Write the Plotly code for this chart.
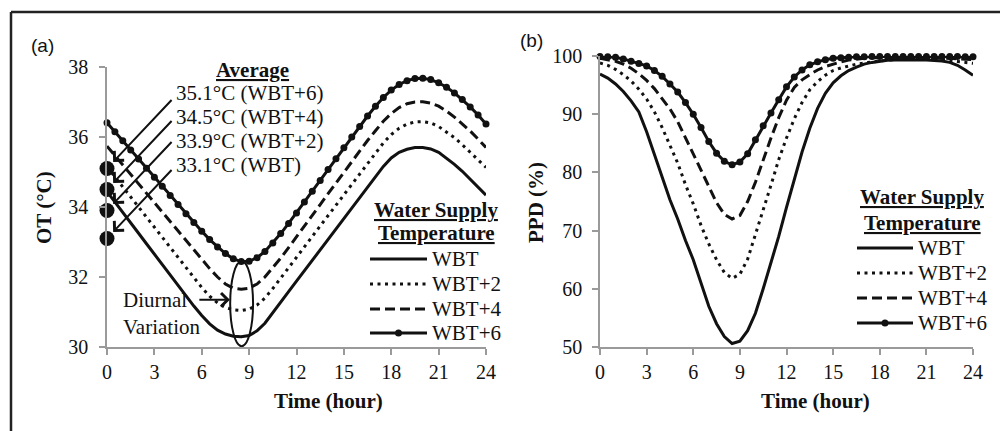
import plotly.graph_objects as go

# ---------------- data ----------------
hours = [0, 0.5, 1, 1.5, 2, 2.5, 3, 3.5, 4, 4.5, 5, 5.5, 6, 6.5, 7, 7.5, 8, 8.5, 9, 9.5,
         10, 10.5, 11, 11.5, 12, 12.5, 13, 13.5, 14, 14.5, 15, 15.5, 16, 16.5, 17, 17.5,
         18, 18.5, 19, 19.5, 20, 20.5, 21, 21.5, 22, 22.5, 23, 23.5, 24]

series_names = ["WBT", "WBT+2", "WBT+4", "WBT+6"]

# (a) Operative temperature (deg C)
ot_wbt = [34.44, 34.15, 33.85, 33.55, 33.25, 32.95, 32.65, 32.35, 32.05, 31.75, 31.45, 31.17,
          30.90, 30.66, 30.48, 30.37, 30.31, 30.29, 30.33, 30.46, 30.68, 30.97, 31.28, 31.58,
          31.88, 32.18, 32.48, 32.78, 33.08, 33.38, 33.68, 33.98, 34.28, 34.58, 34.88, 35.16,
          35.40, 35.56, 35.65, 35.70, 35.70, 35.66, 35.56, 35.40, 35.22, 35.02, 34.80, 34.57, 34.34]
ot_wbt2 = [35.15, 34.87, 34.58, 34.29, 34.00, 33.71, 33.42, 33.13, 32.84, 32.55, 32.26, 31.98,
           31.70, 31.45, 31.26, 31.13, 31.06, 31.04, 31.08, 31.20, 31.40, 31.67, 31.96, 32.26,
           32.56, 32.86, 33.16, 33.46, 33.76, 34.06, 34.36, 34.66, 34.96, 35.26, 35.55, 35.83,
           36.07, 36.25, 36.37, 36.43, 36.44, 36.40, 36.30, 36.15, 35.98, 35.78, 35.57, 35.35, 35.13]
ot_wbt4 = [35.74, 35.47, 35.20, 34.93, 34.66, 34.39, 34.12, 33.85, 33.58, 33.31, 33.04, 32.77,
           32.50, 32.24, 32.00, 31.80, 31.68, 31.65, 31.68, 31.80, 32.00, 32.26, 32.54, 32.84,
           33.14, 33.45, 33.76, 34.07, 34.38, 34.69, 35.00, 35.30, 35.60, 35.90, 36.18, 36.45,
           36.67, 36.84, 36.95, 37.00, 37.01, 36.97, 36.88, 36.74, 36.57, 36.38, 36.17, 35.94, 35.70]
ot_wbt6 = [36.41, 36.15, 35.89, 35.63, 35.37, 35.11, 34.85, 34.59, 34.33, 34.07, 33.81, 33.56,
           33.31, 33.07, 32.86, 32.67, 32.52, 32.44, 32.45, 32.55, 32.73, 32.97, 33.24, 33.53,
           33.83, 34.14, 34.45, 34.76, 35.07, 35.38, 35.69, 36.00, 36.30, 36.60, 36.88, 37.13,
           37.34, 37.50, 37.61, 37.67, 37.68, 37.64, 37.55, 37.42, 37.26, 37.07, 36.86, 36.63, 36.37]

# (b) Predicted percentage dissatisfied (%)
ppd_wbt = [96.9, 96.2, 95.2, 93.9, 92.3, 90.4, 87.0, 83.1, 79.3, 75.3, 72.0, 68.3,
           65.0, 61.0, 57.0, 54.0, 51.8, 50.6, 51.0, 52.8, 55.8, 60.0, 64.5, 69.0,
           74.0, 78.8, 83.5, 87.6, 91.0, 93.6, 95.4, 96.6, 97.5, 98.1, 98.6, 98.9,
           99.1, 99.25, 99.3, 99.35, 99.35, 99.35, 99.3, 99.25, 99.15, 98.9, 98.4, 97.6, 96.7]
ppd_wbt2 = [98.8, 98.4, 97.7, 96.8, 95.7, 94.3, 92.6, 90.4, 87.7, 84.6, 81.6, 77.9,
            74.6, 70.9, 67.7, 65.0, 62.8, 61.8, 62.5, 65.1, 69.2, 73.6, 77.8, 82.2,
            85.9, 89.2, 92.0, 94.2, 95.6, 96.7, 97.5, 97.95, 98.3, 98.6, 98.8, 99.0,
            99.15, 99.3, 99.4, 99.45, 99.5, 99.5, 99.45, 99.4, 99.3, 99.2, 99.05, 98.9, 98.75]
ppd_wbt4 = [99.6, 99.4, 99.1, 98.6, 97.9, 96.95, 95.8, 94.4, 92.7, 90.9, 88.7, 86.0,
            83.3, 80.4, 77.6, 74.8, 72.8, 72.0, 72.6, 75.0, 78.3, 82.2, 85.9, 89.4,
            92.4, 94.6, 95.9, 96.8, 97.6, 98.2, 98.65, 99.0, 99.3, 99.5, 99.6, 99.7,
            99.7, 99.75, 99.75, 99.75, 99.75, 99.75, 99.7, 99.7, 99.65, 99.6, 99.5, 99.45, 99.4]
ppd_wbt6 = [99.9, 99.85, 99.77, 99.5, 99.1, 98.7, 98.3, 97.5, 96.5, 95.2, 93.8, 92.0,
            90.0, 87.7, 85.3, 83.3, 81.9, 81.3, 81.8, 83.2, 85.6, 88.0, 90.2, 92.5,
            94.7, 96.4, 97.6, 98.5, 99.0, 99.35, 99.6, 99.7, 99.8, 99.85, 99.85, 99.9,
            99.9, 99.9, 99.9, 99.9, 99.9, 99.9, 99.9, 99.9, 99.9, 99.9, 99.9, 99.85, 99.85]

avg_values = [35.1, 34.5, 33.9, 33.1]
avg_labels = ["35.1°C (WBT+6)", "34.5°C (WBT+4)", "33.9°C (WBT+2)", "33.1°C (WBT)"]

x_ticks = [0, 3, 6, 9, 12, 15, 18, 21, 24]
ot_ticks = [30, 32, 34, 36, 38]
ppd_ticks = [50, 60, 70, 80, 90, 100]

# ---------------- styling ----------------
W, H = 1000, 431
SERIF = "Liberation Serif, Times New Roman, DejaVu Serif, serif"
SANS = "Liberation Sans, Arial, sans-serif"
AX_GRAY = "#9a9a9a"
INK = "#111111"
FS_TICK = 20
FS = 21


def px(x):
    return x / W


def py(y):
    return 1 - y / H


line_styles = {
    "WBT": dict(color=INK, width=3),
    "WBT+2": dict(color=INK, width=3, dash="3px,4.5px"),
    "WBT+4": dict(color=INK, width=3, dash="10px,5px"),
    "WBT+6": dict(color=INK, width=3),
}
has_markers = {"WBT": False, "WBT+2": False, "WBT+4": False, "WBT+6": True}

fig = go.Figure()

ot_series = [ot_wbt, ot_wbt2, ot_wbt4, ot_wbt6]
ppd_series = [ppd_wbt, ppd_wbt2, ppd_wbt4, ppd_wbt6]

for axes, data in [(("x", "y"), ot_series), (("x2", "y2"), ppd_series)]:
    for name, ys in zip(series_names, data):
        fig.add_trace(go.Scatter(
            x=hours, y=ys, name=name, xaxis=axes[0], yaxis=axes[1],
            mode="lines+markers" if has_markers[name] else "lines",
            line=line_styles[name], marker=dict(size=7, color=INK),
            cliponaxis=False, showlegend=False))

# average dots on the OT axis
fig.add_trace(go.Scatter(x=[0] * len(avg_values), y=avg_values, mode="markers",
                         marker=dict(size=15, color=INK), showlegend=False,
                         cliponaxis=False, xaxis="x", yaxis="y"))

axis_common = dict(showgrid=False, zeroline=False, showline=True, linecolor=AX_GRAY,
                   linewidth=1.5, ticks="outside", tickcolor=AX_GRAY, ticklen=6,
                   tickwidth=1.5, tickfont=dict(family=SERIF, size=FS_TICK, color=INK),
                   fixedrange=True, automargin=False)

fig.update_layout(
    template="none",
    width=W, height=H, autosize=False,
    margin=dict(l=0, r=0, t=0, b=0, pad=0, autoexpand=False),
    paper_bgcolor="white", plot_bgcolor="white",
    showlegend=False,
    xaxis=dict(domain=[px(107), px(486)], range=[0, 24], tickvals=x_ticks,
               anchor="y", **axis_common),
    yaxis=dict(domain=[py(347), py(67)], range=[30, 38], tickvals=ot_ticks,
               anchor="x", ticklabelstandoff=7, **axis_common),
    xaxis2=dict(domain=[px(600), px(973)], range=[0, 24], tickvals=x_ticks,
                anchor="y2", **axis_common),
    yaxis2=dict(domain=[py(347), py(56)], range=[50, 100], tickvals=ppd_ticks,
                anchor="x2", ticklabelstandoff=6, **axis_common),
)

ann = []
shapes = []


def text(t, x, y, size=FS, family=SERIF, xanchor="center", angle=0, align="center"):
    ann.append(dict(text=t, x=px(x), y=py(y), xref="paper", yref="paper", showarrow=False,
                    xanchor=xanchor, yanchor="middle", align=align, textangle=angle,
                    font=dict(family=family, size=size, color=INK)))


# panel labels
text("(a)", 42, 46, size=19, family=SANS)
text("(b)", 531, 40, size=19, family=SANS)
# axis titles
text("<b>Time (hour)</b>", 328, 401)
text("<b>Time (hour)</b>", 815, 401)
text("<b>OT (°C)</b>", 44, 208, angle=-90)
text("<b>PPD (%)</b>", 536, 203, angle=-90)

# Average header and labels
text("<b><u>Average</u></b>", 252, 70)
for lab, yy in zip(avg_labels, [93, 117, 141, 165]):
    text(lab, 174, yy, xanchor="left")
# arrows to the average dots
for v in avg_values:
    ann.append(dict(text="", x=0, y=v, xref="x", yref="y", showarrow=True,
                    ax=66, ay=-70, arrowhead=4, arrowsize=1.3, arrowwidth=2,
                    arrowcolor=INK, standoff=9))

# Diurnal variation
text("Diurnal<br>Variation", 121, 313, xanchor="left", align="left")
ann.append(dict(text="", x=7.78, y=31.35, xref="x", yref="y", showarrow=True,
                ax=-32, ay=0, arrowhead=4, arrowsize=1.3, arrowwidth=2, arrowcolor=INK))
shapes.append(dict(type="circle", xref="x", yref="y", x0=7.8, x1=9.25, y0=30.02, y1=32.45,
                   line=dict(color=INK, width=2)))


# manual legends (title + line samples + labels)
def legend(title_x, title_y1, title_y2, sample_x0, sample_x1, item_ys):
    text("<b><u>Water Supply</u></b>", title_x, title_y1)
    text("<b><u>Temperature</u></b>", title_x, title_y2)
    for name, yy in zip(series_names, item_ys):
        st = line_styles[name]
        shapes.append(dict(type="line", xref="paper", yref="paper",
                           x0=px(sample_x0), x1=px(sample_x1), y0=py(yy), y1=py(yy),
                           line=dict(color=st["color"], width=st["width"],
                                     dash=st.get("dash", "solid"))))
        if has_markers[name]:
            cx = (sample_x0 + sample_x1) / 2
            shapes.append(dict(type="circle", xref="paper", yref="paper",
                               x0=px(cx - 3.5), x1=px(cx + 3.5), y0=py(yy + 3.5), y1=py(yy - 3.5),
                               fillcolor=INK, line=dict(color=INK, width=0)))
        text(name, sample_x1 + 3, yy, xanchor="left")


legend(436, 210, 233, 370, 427, [259, 284, 309, 333])
legend(922, 197, 223, 857, 913, [248, 273, 298, 323])

# outer frame (top and left edges)
shapes.append(dict(type="line", xref="paper", yref="paper", x0=px(11), x1=1.0,
                   y0=py(12), y1=py(12), line=dict(color="#222222", width=2.5)))
shapes.append(dict(type="line", xref="paper", yref="paper", x0=px(11), x1=px(11),
                   y0=py(12), y1=0, line=dict(color="#222222", width=2.5)))

fig.update_layout(annotations=ann, shapes=shapes)

fig.write_html("out.html", config={"displayModeBar": False},
               post_script="document.body.style.margin='0px';document.body.style.overflow='hidden';")
